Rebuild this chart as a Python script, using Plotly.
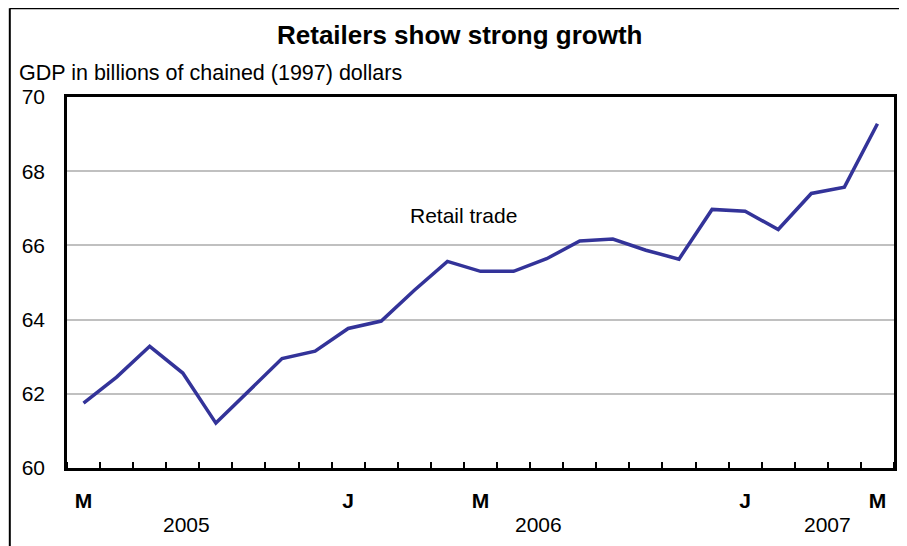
import plotly.graph_objects as go

# ---- data ----
values = [61.75, 62.45, 63.28, 62.56, 61.21, 62.09, 62.95, 63.15, 63.76, 63.96,
          64.79, 65.57, 65.30, 65.30, 65.64, 66.12, 66.17, 65.87, 65.63, 66.97,
          66.92, 66.43, 67.40, 67.57, 69.28]
x_idx = list(range(len(values)))
tick_positions = [0, 8, 12, 20, 24]
tick_labels = ["M", "J", "M", "J", "M"]
year_labels = ["2005", "2006", "2007"]
year_positions = [3.12, 13.76, 22.49]
series_name = "Retail trade"

# page body has an 8px margin; compensate so the picture lands where the reference has it
OFF = 8
W, H = 907 - OFF, 546 - OFF
L, T = 66.7 - OFF, 97.3 - OFF
R = W - (896.7 - OFF)
B = H - (467.7 - OFF)
PW, PH = W - L - R, H - T - B


def px2x(px):  # page px -> paper
    return (px - OFF - L) / PW


def py2y(py):
    return (H - B - (py - OFF)) / PH


FONT = "Liberation Sans, Arial, sans-serif"
FS = 21

fig = go.Figure()
fig.add_trace(go.Scatter(x=x_idx, y=values, mode="lines", name=series_name,
                         line=dict(color="#333399", width=3.5), showlegend=False))

annotations = [
    dict(text="<b>Retailers show strong growth</b>", x=px2x(461), y=py2y(35),
         xref="paper", yref="paper", showarrow=False, xanchor="center", yanchor="middle",
         font=dict(size=26, color="black", family=FONT)),
    dict(text="GDP in billions of chained (1997) dollars", x=px2x(17), y=py2y(73),
         xref="paper", yref="paper", showarrow=False, xanchor="left", yanchor="middle",
         font=dict(size=21.5, color="black", family=FONT)),
    dict(text=series_name, x=11.5, y=66.81, xref="x", yref="y", showarrow=False,
         xanchor="center", yanchor="middle", font=dict(size=FS, color="black", family=FONT)),
]
for lab, pos in zip(year_labels, year_positions):
    annotations.append(dict(text=lab, x=pos, y=py2y(524), xref="x", yref="paper",
                            showarrow=False, xanchor="center", yanchor="middle",
                            font=dict(size=FS, color="black", family=FONT)))

shapes = [
    dict(type="line", xref="paper", yref="paper", x0=px2x(9.3), x1=px2x(912),
         y0=py2y(8.6), y1=py2y(8.6), line=dict(color="black", width=2)),
    dict(type="line", xref="paper", yref="paper", x0=px2x(9.3), x1=px2x(9.3),
         y0=py2y(8.6), y1=py2y(550), line=dict(color="black", width=2)),
]

fig.update_layout(
    width=W, height=H,
    margin=dict(l=L, r=R, t=T, b=B, pad=0),
    paper_bgcolor="white", plot_bgcolor="white",
    font=dict(family=FONT, size=FS, color="black"),
    annotations=annotations, shapes=shapes,
    xaxis=dict(range=[-0.5, len(values) - 0.5], tickmode="array",
               tickvals=tick_positions, ticktext=["<b>%s</b>" % t for t in tick_labels],
               ticks="", showgrid=False, zeroline=False,
               showline=True, linecolor="black", linewidth=2.5, mirror=True,
               ticklabelstandoff=12,
               tickfont=dict(size=FS, color="black", family=FONT),
               minor=dict(tick0=0.5, dtick=1, ticks="inside", ticklen=6,
                          tickcolor="black", tickwidth=1.5, showgrid=False)),
    yaxis=dict(range=[60, 70], dtick=2, tick0=60, ticks="", showgrid=True,
               gridcolor="#c0c0c0", gridwidth=1.5, zeroline=False,
               showline=True, linecolor="black", linewidth=2.5, mirror=True,
               ticklabelstandoff=15,
               tickfont=dict(size=FS, color="black", family=FONT)),
)

fig.write_html("out.html")
